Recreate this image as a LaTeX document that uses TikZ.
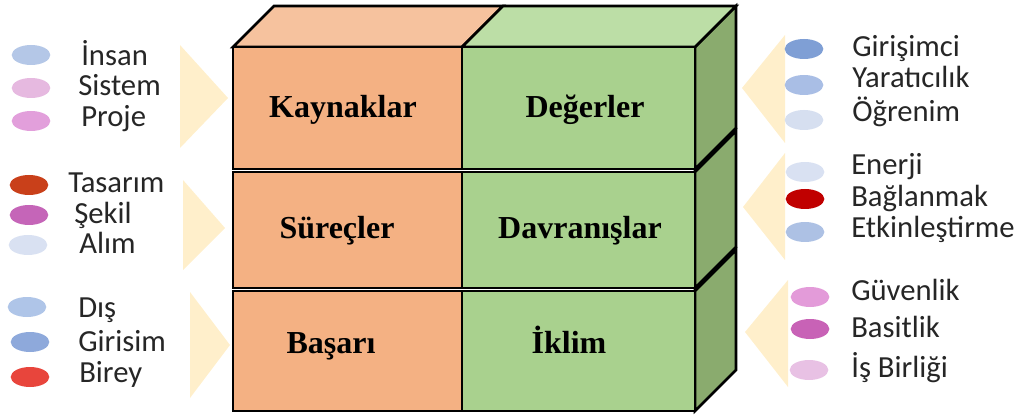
\documentclass[tikz,border=0pt]{standalone}
\usepackage{fontspec}
\setmainfont{Liberation Serif}
\newfontfamily\carlito{Carlito}
\usetikzlibrary{shapes.geometric}
\usepackage{xcolor}
\definecolor{turuncu}{HTML}{F4B183}
\definecolor{turuncuust}{HTML}{F6C29E}
\definecolor{yesil}{HTML}{A9D18E}
\definecolor{yesilust}{HTML}{BCDEA6}
\definecolor{yesilyan}{HTML}{8AAB6E}
\definecolor{sari}{HTML}{FFEFCB}
\definecolor{metin}{HTML}{262626}

\begin{document}
\begin{tikzpicture}[x=0.75pt, y=-0.75pt, line width=1.9pt,
		bullet/.style={ellipse, minimum width=29pt, minimum height=15pt, inner sep=0pt},
		madde/.style={anchor=base west, inner sep=0pt, text=metin, font=\carlito\fontsize{23}{28}\selectfont},
		baslik/.style={anchor=base, inner sep=0pt, font=\bfseries\fontsize{24}{29}\selectfont}]
		\useasboundingbox (0,0) rectangle (1019,416);
		
		% oklar
		\fill[sari] (180,45) -- (228,98) -- (180,148) -- cycle;
		\fill[sari] (183,180) -- (225,228) -- (183,270) -- cycle;
		\fill[sari] (190,292) -- (230,345) -- (190,398) -- cycle;
		\fill[sari] (785,35) -- (742,88) -- (785,143) -- cycle;
		\fill[sari] (785,153) -- (743,207) -- (785,260) -- cycle;
		\fill[sari] (788,280) -- (745,332) -- (788,387) -- cycle;
		
		% yan ve ust yuzler
		\filldraw[fill=yesilyan] (695,291) -- (736,250) -- (736,370) -- (695,411) -- cycle;
		\filldraw[fill=yesilyan] (695,172) -- (736,131) -- (736,247) -- (695,288) -- cycle;
		\filldraw[fill=yesilyan] (695,47) -- (736,6) -- (736,128) -- (695,169) -- cycle;
		\filldraw[fill=turuncuust] (233,47) -- (274,6) -- (503,6) -- (462,47) -- cycle;
		\filldraw[fill=yesilust] (462,47) -- (503,6) -- (736,6) -- (695,47) -- cycle;
		
		% on yuzler
		\filldraw[fill=turuncu] (233,47) rectangle (462,169);
		\filldraw[fill=yesil] (462,47) rectangle (695,169);
		\filldraw[fill=turuncu] (233,172) rectangle (462,288);
		\filldraw[fill=yesil] (462,172) rectangle (695,288);
		\filldraw[fill=turuncu] (233,291) rectangle (462,411);
		\filldraw[fill=yesil] (462,291) rectangle (695,411);
		
		\node[baslik] (kaynak) at (343,118) {Kaynaklar};
		\node[baslik] (deger) at (585,118) {Değerler};
		\node[baslik] (surec) at (337,239) {Süreçler};
		\node[baslik] (davranis) at (580,239) {Davranışlar};
		\node[baslik] (basari) at (331,353) {Başarı};
		\node[baslik] (iklim) at (569,353) {İklim};
		
		% sol maddeler
		\node[bullet, fill={rgb,255:red,180;green,199;blue,231}] (b1) at (31,55) {};
		\node[bullet, fill={rgb,255:red,230;green,185;blue,224}] (b2) at (31,88) {};
		\node[bullet, fill={rgb,255:red,226;green,159;blue,219}] (b3) at (31,121) {};
		\node[madde] (m1) at (80,66) {İnsan};
		\node[madde] (m2) at (77,96) {Sistem};
		\node[madde] (m3) at (80,127) {Proje};
		
		\node[bullet, fill={rgb,255:red,201;green,64;blue,26}] (b4) at (29,185) {};
		\node[bullet, fill={rgb,255:red,197;green,101;blue,184}] (b5) at (29,215) {};
		\node[bullet, fill={rgb,255:red,217;green,225;blue,242}] (b6) at (28,245) {};
		\node[madde] (m4) at (67,193) {Tasarım};
		\node[madde] (m5) at (73,224) {Şekil};
		\node[madde] (m6) at (78,253) {Alım};
		
		\node[bullet, fill={rgb,255:red,175;green,197;blue,232}] (b7) at (27,307) {};
		\node[bullet, fill={rgb,255:red,142;green,169;blue,219}] (b8) at (30,342) {};
		\node[bullet, fill={rgb,255:red,232;green,69;blue,60}] (b9) at (30,377) {};
		\node[madde] (m7) at (77,317) {Dış};
		\node[madde] (m8) at (77,351) {Girisim};
		\node[madde] (m9) at (78,382) {Birey};
		
		% sag maddeler
		\node[bullet, fill={rgb,255:red,127;green,159;blue,213}] (b10) at (804,49) {};
		\node[bullet, fill={rgb,255:red,169;green,190;blue,229}] (b11) at (804,85) {};
		\node[bullet, fill={rgb,255:red,214;green,223;blue,240}] (b12) at (804,120) {};
		\node[madde] (m10) at (851,57) {Girişimci};
		\node[madde] (m11) at (851,88) {Yaratıcılık};
		\node[madde] (m12) at (851,122) {Öğrenim};
		
		\node[bullet, fill={rgb,255:red,217;green,225;blue,242}] (b13) at (805,172) {};
		\node[bullet, fill={rgb,255:red,192;green,0;blue,0}] (b14) at (805,199) {};
		\node[bullet, fill={rgb,255:red,173;green,193;blue,228}] (b15) at (805,232) {};
		\node[madde] (m13) at (850,175) {Enerji};
		\node[madde] (m14) at (850,207) {Bağlanmak};
		\node[madde] (m15) at (850,238) {Etkinleştirme};
		
		\node[bullet, fill={rgb,255:red,227;green,155;blue,217}] (b16) at (810,297) {};
		\node[bullet, fill={rgb,255:red,200;green,98;blue,182}] (b17) at (810,329) {};
		\node[bullet, fill={rgb,255:red,232;green,193;blue,228}] (b18) at (809,370) {};
		\node[madde] (m16) at (850,300) {Güvenlik};
		\node[madde] (m17) at (850,337) {Basitlik};
		\node[madde] (m18) at (850,377) {İş Birliği};
	\end{tikzpicture}
\end{document}
